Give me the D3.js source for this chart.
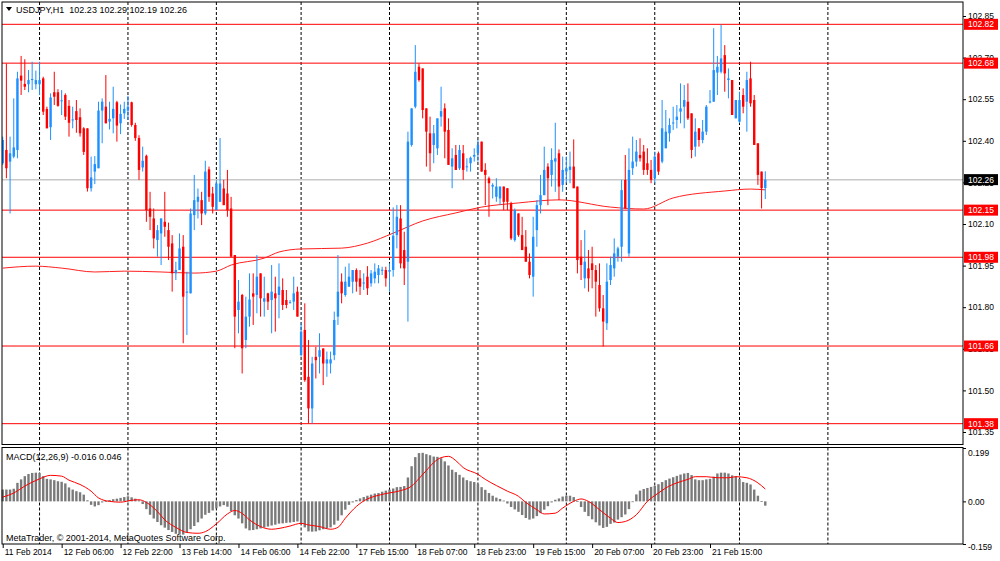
<!DOCTYPE html>
<html>
<head>
<meta charset="utf-8">
<script src="https://cdn.jsdelivr.net/npm/d3@7"></script>
<style>
  body { margin: 0; background: #fff; }
  svg text { font-family: "Liberation Sans", Arial, sans-serif; }
</style>
</head>
<body>
<svg class="mt-svg" width="1000" height="561"></svg>
<script>
// ---- data (USDJPY H1) ----
var symbol = "USDJPY,H1"

var open = [
  102.319,102.367,102.325,102.343,102.367,102.635,102.605,102.604,102.619,102.604,
  102.604,102.625,102.515,102.449,102.575,102.575,102.544,102.565,102.526,102.475,
  102.507,102.485,102.445,102.445,102.229,102.289,102.301,102.509,102.523,102.469,
  102.481,102.539,102.463,102.499,102.509,102.539,102.457,102.410,102.304,102.346,
  102.156,102.120,102.042,102.066,102.108,102.078,102.030,101.922,101.934,102.018,
  101.854,101.850,102.132,102.180,102.186,102.138,102.297,102.210,102.150,102.180,
  102.228,102.210,102.156,101.988,101.790,101.844,101.682,101.766,101.850,101.844,
  101.922,101.820,101.850,101.826,101.850,101.844,101.862,101.826,101.816,101.820,
  101.856,101.628,101.718,101.549,101.435,101.621,101.621,101.651,101.597,101.597,
  101.627,101.766,101.892,101.844,101.874,101.892,101.934,101.904,101.887,101.910,
  101.886,101.904,101.916,101.933,101.934,101.928,101.934,102.060,102.120,102.006,
  101.964,102.385,102.523,102.667,102.661,102.517,102.427,102.385,102.373,102.487,
  102.517,102.439,102.307,102.349,102.301,102.355,102.306,102.319,102.343,102.355,
  102.397,102.295,102.265,102.235,102.198,102.192,102.235,102.229,102.174,102.042,
  102.138,102.060,102.018,101.964,101.910,102.078,102.168,102.204,102.307,102.277,
  102.325,102.355,102.241,102.289,102.295,102.307,102.235,101.982,101.904,101.940,
  101.958,101.934,101.880,101.796,101.742,101.898,101.940,101.982,102.018,102.259,
  101.994,102.301,102.325,102.349,102.361,102.319,102.295,102.265,102.355,102.325,
  102.373,102.427,102.464,102.475,102.505,102.523,102.541,102.499,102.379,102.445,
  102.403,102.433,102.540,102.541,102.646,102.649,102.709,102.619,102.619,102.481,
  102.469,102.565,102.541,102.625,102.547,102.391,102.289,102.230]

var high = [
  102.415,102.679,102.415,102.553,102.649,102.706,102.694,102.655,102.685,102.653,
  102.685,102.631,102.523,102.571,102.649,102.586,102.583,102.571,102.547,102.523,
  102.547,102.517,102.449,102.445,102.343,102.345,102.541,102.553,102.637,102.541,
  102.595,102.544,102.531,102.541,102.562,102.541,102.465,102.420,102.379,102.350,
  102.216,102.156,102.096,102.120,102.216,102.105,102.060,101.964,102.066,102.060,
  101.928,102.156,102.277,102.228,102.216,102.328,102.307,102.234,102.259,102.410,
  102.259,102.295,102.198,101.988,101.898,101.848,101.838,101.922,101.922,101.988,
  101.922,101.910,101.852,101.952,101.910,101.958,101.904,101.862,101.826,101.910,
  101.874,101.742,101.814,101.682,101.621,101.657,101.706,101.652,101.640,101.640,
  101.784,101.988,101.922,101.946,101.958,101.934,101.940,101.934,101.922,101.948,
  101.934,101.958,101.952,101.946,101.946,101.958,102.160,102.168,102.168,102.072,
  102.433,102.517,102.745,102.679,102.661,102.517,102.487,102.457,102.481,102.595,
  102.535,102.481,102.373,102.385,102.385,102.385,102.337,102.343,102.373,102.403,
  102.397,102.319,102.271,102.247,102.265,102.235,102.235,102.229,102.180,102.156,
  102.138,102.126,102.078,101.994,102.126,102.186,102.277,102.379,102.319,102.373,
  102.465,102.369,102.343,102.343,102.361,102.405,102.235,102.042,102.078,102.006,
  102.018,101.952,101.958,101.844,101.958,101.982,102.048,102.018,102.259,102.349,
  102.373,102.415,102.403,102.409,102.385,102.373,102.331,102.361,102.361,102.547,
  102.511,102.481,102.523,102.529,102.607,102.601,102.607,102.499,102.481,102.445,
  102.475,102.529,102.583,102.806,102.706,102.818,102.745,102.661,102.619,102.547,
  102.577,102.589,102.649,102.685,102.565,102.391,102.289,102.290]

var low = [
  102.313,102.265,102.138,102.337,102.337,102.565,102.583,102.575,102.583,102.586,
  102.565,102.493,102.445,102.403,102.529,102.523,102.493,102.475,102.415,102.445,
  102.429,102.415,102.349,102.217,102.217,102.244,102.301,102.391,102.463,102.441,
  102.427,102.397,102.424,102.479,102.475,102.451,102.400,102.259,102.289,102.108,
  102.078,102.012,101.982,101.952,102.054,101.970,101.856,101.898,101.934,101.670,
  101.700,101.850,102.078,102.120,102.096,102.132,102.180,102.138,102.150,102.180,
  102.168,102.126,101.982,101.652,101.706,101.561,101.652,101.730,101.736,101.778,
  101.766,101.766,101.790,101.706,101.712,101.760,101.790,101.796,101.814,101.790,
  101.766,101.622,101.531,101.381,101.381,101.543,101.561,101.519,101.549,101.561,
  101.609,101.736,101.814,101.838,101.874,101.850,101.856,101.844,101.862,101.844,
  101.874,101.886,101.886,101.916,101.874,101.856,101.910,102.012,101.940,101.880,
  101.748,102.379,102.517,102.613,102.481,102.307,102.289,102.319,102.349,102.451,
  102.337,102.313,102.229,102.295,102.295,102.259,102.289,102.289,102.325,102.325,
  102.289,102.168,102.126,102.192,102.180,102.168,102.150,102.150,102.042,102.036,
  102.054,102.006,101.964,101.904,101.838,102.018,102.138,102.204,102.168,102.235,
  102.216,102.186,102.216,102.247,102.247,102.229,101.922,101.898,101.868,101.856,
  101.868,101.766,101.784,101.658,101.718,101.880,101.910,101.964,101.964,102.156,
  101.982,102.277,102.307,102.325,102.277,102.277,102.247,102.247,102.277,102.319,
  102.373,102.397,102.439,102.445,102.463,102.445,102.475,102.337,102.343,102.379,
  102.391,102.421,102.535,102.541,102.565,102.643,102.577,102.553,102.493,102.481,
  102.463,102.499,102.433,102.523,102.385,102.241,102.156,102.190]

var close = [
  102.403,102.301,102.355,102.376,102.625,102.617,102.595,102.619,102.623,102.619,
  102.619,102.505,102.445,102.556,102.559,102.526,102.546,102.487,102.465,102.477,
  102.475,102.427,102.360,102.229,102.268,102.316,102.509,102.541,102.463,102.479,
  102.515,102.455,102.497,102.515,102.523,102.457,102.410,102.295,102.328,102.150,
  102.126,102.048,102.078,102.120,102.090,102.018,101.922,101.934,102.012,101.838,
  101.856,102.138,102.186,102.198,102.138,102.289,102.198,102.162,102.246,102.246,
  102.168,102.150,101.982,101.766,101.820,101.652,101.766,101.828,101.838,101.910,
  101.832,101.832,101.820,101.856,101.832,101.874,101.808,101.808,101.818,101.850,
  101.766,101.712,101.537,101.435,101.597,101.609,101.645,101.597,101.612,101.612,
  101.754,101.856,101.850,101.892,101.910,101.934,101.892,101.874,101.889,101.868,
  101.922,101.928,101.940,101.935,101.904,101.934,102.058,102.126,101.958,101.940,
  102.397,102.517,102.649,102.619,102.511,102.433,102.355,102.427,102.481,102.507,
  102.433,102.313,102.337,102.295,102.367,102.295,102.308,102.339,102.349,102.385,
  102.289,102.277,102.247,102.241,102.235,102.235,102.180,102.180,102.048,102.150,
  102.060,102.006,101.964,101.916,102.054,102.168,102.204,102.295,102.265,102.331,
  102.337,102.235,102.295,102.301,102.307,102.229,101.970,101.952,101.964,101.904,
  101.934,101.892,101.796,101.748,101.892,101.952,101.994,102.012,102.222,102.156,
  102.295,102.325,102.361,102.337,102.295,102.295,102.259,102.343,102.289,102.445,
  102.433,102.457,102.466,102.487,102.517,102.547,102.481,102.367,102.433,102.403,
  102.433,102.523,102.542,102.655,102.667,102.697,102.643,102.625,102.493,102.547,
  102.547,102.523,102.619,102.535,102.385,102.277,102.229,102.260]

// moving average on the price panel, read at these bars
var maBars = [0, 9, 16, 25, 33, 43, 52, 58, 62, 71, 75, 81, 92, 99, 106, 114, 123, 130, 140, 151, 165, 174, 182, 196, 203, 207]
var maValues = [101.941, 101.948, 101.941, 101.927, 101.930, 101.927, 101.923, 101.930, 101.952, 101.977, 101.999, 102.010, 102.013,
  102.031, 102.067, 102.111, 102.140, 102.161, 102.176, 102.187, 102.161, 102.154, 102.194, 102.219, 102.226, 102.223]

// MACD(12,26,9) histogram, one value per bar
var macdMain = [
  0.044,0.044,0.044,0.047,0.069,0.082,0.094,0.102,0.106,0.107,
  0.106,0.094,0.084,0.082,0.079,0.075,0.073,0.067,0.052,0.044,
  0.038,0.034,0.025,0.004,-0.013,-0.019,-0.014,-0.004,0.001,0.005,
  0.008,0.010,0.013,0.016,0.019,0.015,0.010,0.004,-0.010,-0.029,
  -0.050,-0.064,-0.077,-0.089,-0.098,-0.107,-0.114,-0.121,-0.124,-0.124,
  -0.117,-0.104,-0.092,-0.078,-0.064,-0.050,-0.043,-0.034,-0.026,-0.019,
  -0.014,-0.020,-0.036,-0.052,-0.064,-0.082,-0.101,-0.108,-0.107,-0.104,
  -0.101,-0.097,-0.094,-0.090,-0.087,-0.083,-0.082,-0.080,-0.079,-0.077,
  -0.075,-0.084,-0.097,-0.112,-0.113,-0.112,-0.108,-0.104,-0.101,-0.097,
  -0.087,-0.072,-0.052,-0.031,-0.013,-0.004,0.005,0.011,0.016,0.021,
  0.025,0.029,0.031,0.036,0.040,0.044,0.048,0.053,0.054,0.057,
  0.089,0.131,0.165,0.180,0.181,0.176,0.172,0.167,0.166,0.161,
  0.149,0.134,0.118,0.109,0.099,0.089,0.079,0.075,0.072,0.065,
  0.053,0.043,0.031,0.021,0.014,0.009,0.003,-0.008,-0.021,-0.030,
  -0.039,-0.051,-0.062,-0.068,-0.064,-0.055,-0.044,-0.031,-0.018,-0.004,
  0.006,0.011,0.018,0.021,0.021,0.016,0.001,-0.021,-0.039,-0.055,
  -0.067,-0.078,-0.090,-0.099,-0.095,-0.084,-0.079,-0.068,-0.059,-0.049,
  -0.029,-0.001,0.026,0.040,0.046,0.050,0.054,0.058,0.064,0.072,
  0.079,0.085,0.090,0.095,0.100,0.104,0.106,0.098,0.082,0.079,
  0.079,0.082,0.084,0.092,0.104,0.107,0.107,0.104,0.097,0.094,
  0.084,0.072,0.069,0.063,0.044,0.021,0.001,-0.016]

// signal line, read at these bars
var signalBars = [0,3,6,10,13,16,18,21,24,26,29,32,35,37,39,42,44,47,50,53,55,58,61,63,65,67,70,73,75,78,81,83,86,89,91,93,96,99,101,104,
  108,111,113,115,117,119,121,123,125,129,131,134,137,140,142,145,147,150,152,155,157,159,162,165,167,169,172,175,178,180,183,186,188,191,194,197,199,202,205,207]
var signalValues = [0.016,0.031,0.057,0.084,0.097,0.094,0.079,0.063,0.038,0.013,0.000,-0.003,0.004,0.006,-0.004,-0.038,-0.069,-0.097,-0.116,-0.119,
  -0.113,-0.084,-0.047,-0.034,-0.045,-0.069,-0.094,-0.104,-0.101,-0.092,-0.082,-0.088,-0.094,-0.104,-0.097,-0.063,-0.019,0.009,0.019,0.029,
  0.040,0.057,0.085,0.115,0.145,0.163,0.168,0.152,0.126,0.101,0.082,0.059,0.038,0.019,-0.004,-0.031,-0.047,-0.044,-0.025,0.000,
  0.009,0.000,-0.031,-0.063,-0.079,-0.075,-0.050,0.000,0.031,0.050,0.069,0.082,0.092,0.092,0.088,0.088,0.092,0.088,0.069,0.046]

var levels = [102.82, 102.68, 102.15, 101.98, 101.66, 101.38]
var priceTicks = [102.85, 102.70, 102.55, 102.40, 102.25, 102.10, 101.95, 101.80, 101.65, 101.50, 101.35]
var macdTicks = [0.199, 0.00, -0.159]
var macdTickLabels = ["0.199", "0.00", "-0.159"]
var gridBars = [10, 34, 58, 81, 105, 129, 153, 177, 200, 224]
var labelBars = [0, 16, 32, 48, 64, 80, 96, 112, 128, 144, 160, 176, 192]
var timeLabels = ["11 Feb 2014", "12 Feb 06:00", "12 Feb 22:00", "13 Feb 14:00", "14 Feb 06:00", "14 Feb 22:00",
  "17 Feb 15:00", "18 Feb 07:00", "18 Feb 23:00", "19 Feb 15:00", "20 Feb 07:00", "20 Feb 23:00", "21 Feb 15:00"]

// ---- layout ----
var main = {left: 2, right: 963, top: 2, bottom: 444.5}
var sub = {top: 447.5, bottom: 544}
var fontSize = "8.5px"

var svg = d3.select(".mt-svg")
var last = close.length - 1
// plain hyphen for negatives, like the terminal prints them
var locale = d3.formatLocale({decimal: ".", thousands: ",", grouping: [3], currency: ["", ""], minus: "-"})
var fmt = locale.format(".2f")
var fmt3 = locale.format(".3f")

var xScale = d3.scaleLinear().domain([0, 224]).range([2.7, 827.9])
var yScale = d3.scaleLinear().domain([101.35, 102.85]).range([432, 16])
var mScale = d3.scaleLinear().domain([-0.159, 0.199]).range([sub.bottom, sub.top + 0.5])

svg.append("defs").append("clipPath").attr("id", "clip-main")
  .append("rect").attr("x", main.left).attr("y", main.top)
  .attr("width", main.right - main.left).attr("height", main.bottom - main.top)

function drawGrid(top, bottom) {
  svg.append("g").selectAll("line")
    .data(gridBars).enter().append("line")
    .attr("x1", d => xScale(d)).attr("x2", d => xScale(d))
    .attr("y1", top).attr("y2", bottom)
    .attr("stroke", "#000").attr("stroke-width", 1)
    .attr("stroke-dasharray", "3,2")
}

function drawPricePanel() {
  drawGrid(main.top, main.bottom)
  var g = svg.append("g").attr("clip-path", "url(#clip-main)")

  // bid line
  g.append("line")
    .attr("x1", main.left).attr("x2", main.right)
    .attr("y1", yScale(close[last])).attr("y2", yScale(close[last]))
    .attr("stroke", "#c8c8c8").attr("stroke-width", 1.5)

  g.selectAll(".level").data(levels).enter().append("line")
    .attr("class", "level")
    .attr("x1", main.left).attr("x2", main.right)
    .attr("y1", d => yScale(d)).attr("y2", d => yScale(d))
    .attr("stroke", "#ff0000").attr("stroke-width", 1)

  var ma = d3.line()
    .x((d, i) => xScale(maBars[i]))
    .y(d => yScale(d))
    .curve(d3.curveMonotoneX)
  g.append("path").datum(maValues)
    .attr("d", ma).attr("fill", "none")
    .attr("stroke", "#ff2020").attr("stroke-width", 1)

  var bars = g.selectAll(".candle").data(close).enter().append("g")
    .attr("class", "candle")
    .attr("fill", (d, i) => close[i] >= open[i] ? "#1e90ff" : "#ff0000")
    .attr("stroke", (d, i) => close[i] >= open[i] ? "#1e90ff" : "#ff0000")

  bars.append("line")
    .attr("x1", (d, i) => xScale(i)).attr("x2", (d, i) => xScale(i))
    .attr("y1", (d, i) => yScale(high[i])).attr("y2", (d, i) => yScale(low[i]))
    .attr("stroke-width", 1)

  bars.append("rect")
    .attr("stroke", "none")
    .attr("x", (d, i) => xScale(i) - 1.2)
    .attr("width", 2.4)
    .attr("y", (d, i) => yScale(Math.max(open[i], close[i])))
    .attr("height", (d, i) => Math.max(1, yScale(Math.min(open[i], close[i])) - yScale(Math.max(open[i], close[i]))))

  svg.append("rect")
    .attr("x", main.left).attr("y", main.top)
    .attr("width", main.right - main.left).attr("height", main.bottom - main.top)
    .attr("fill", "none").attr("stroke", "#000").attr("stroke-width", 1)

  // header
  svg.append("path").attr("d", "M6,7L12,7L9,11Z").attr("fill", "#000")
  svg.append("text")
    .attr("x", 16).attr("y", 13)
    .attr("font-size", "9px").attr("fill", "#000")
    .attr("xml:space", "preserve")
    .text(symbol + "  " + [open[last], high[last], low[last], close[last]].map(fmt).join(" "))
}

function drawPriceAxis() {
  var axis = svg.append("g")
    .attr("transform", "translate(" + main.right + ",0)")
    .call(d3.axisRight(yScale).tickValues(priceTicks).tickFormat(fmt).tickSize(3).tickPadding(2))
  axis.select(".domain").remove()
  axis.selectAll("text").attr("font-size", fontSize).attr("font-family", "Liberation Sans, Arial, sans-serif").attr("fill", "#000")

  // level tags sit on top of the scale, hiding the ticks they cover
  var tags = svg.append("g")
  var rows = levels.map(v => ({value: v, bg: "#ff0000"}))
  rows.push({value: close[last], bg: "#000"})
  tags.selectAll("rect").data(rows).enter().append("rect")
    .attr("x", main.right + 1).attr("width", 34)
    .attr("y", d => yScale(d.value) - 5.5).attr("height", 11)
    .attr("fill", d => d.bg)
  tags.selectAll("text").data(rows).enter().append("text")
    .attr("x", main.right + 5).attr("y", d => yScale(d.value))
    .attr("dy", "0.35em")
    .attr("font-size", fontSize).attr("fill", "#fff")
    .text(d => fmt(d.value))
}

function drawMacdPanel() {
  drawGrid(sub.top, sub.bottom)
  var zero = mScale(0)
  var g = svg.append("g")

  g.selectAll("rect").data(macdMain).enter().append("rect")
    .attr("x", (d, i) => xScale(i) - 1.2)
    .attr("width", 2.4)
    .attr("y", d => Math.min(mScale(d), zero))
    .attr("height", d => Math.max(0.8, Math.abs(mScale(d) - zero)))
    .attr("fill", "#7a7a7a")

  var sig = d3.line()
    .x((d, i) => xScale(signalBars[i]))
    .y(d => mScale(d))
    .curve(d3.curveMonotoneX)
  g.append("path").datum(signalValues)
    .attr("d", sig).attr("fill", "none")
    .attr("stroke", "#ff0000").attr("stroke-width", 1)

  svg.append("rect")
    .attr("x", main.left).attr("y", sub.top)
    .attr("width", main.right - main.left).attr("height", sub.bottom - sub.top)
    .attr("fill", "none").attr("stroke", "#000").attr("stroke-width", 1)

  var axis = svg.append("g")
    .attr("transform", "translate(" + main.right + ",0)")
    .call(d3.axisRight(mScale).tickValues(macdTicks)
      .tickFormat((d, i) => macdTickLabels[i]).tickSize(3).tickPadding(2))
  axis.select(".domain").remove()
  axis.selectAll("text").attr("font-size", fontSize).attr("font-family", "Liberation Sans, Arial, sans-serif").attr("fill", "#000")
    .attr("dy", (d, i) => i == 0 ? "0.85em" : (i == 2 ? "0.6em" : "0.32em"))

  svg.append("text").attr("x", 6).attr("y", 460)
    .attr("font-size", "9px").attr("fill", "#000")
    .text("MACD(12,26,9) " + fmt3(macdMain[last]) + " " + fmt3(signalValues[signalValues.length - 1]))

  svg.append("text").attr("x", 6).attr("y", 541)
    .attr("font-size", "9px").attr("fill", "#000")
    .text("MetaTrader, \u00a9 2001-2014, MetaQuotes Software Corp.")
}

function drawTimeAxis() {
  var axis = svg.append("g")
    .attr("transform", "translate(0," + sub.bottom + ")")
    .call(d3.axisBottom(xScale).tickValues(labelBars)
      .tickFormat((d, i) => timeLabels[i]).tickSize(4).tickPadding(1))
  axis.select(".domain").remove()
  axis.selectAll("text")
    .attr("text-anchor", "start").attr("x", 1.5)
    .attr("font-size", fontSize).attr("font-family", "Liberation Sans, Arial, sans-serif").attr("fill", "#000")
}

drawPricePanel()
drawPriceAxis()
drawMacdPanel()
drawTimeAxis()
</script>
</body>
</html>
